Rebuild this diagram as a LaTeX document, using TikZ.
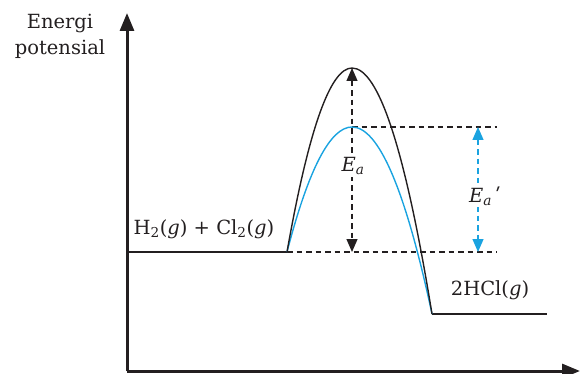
\documentclass[tikz,border=0pt]{standalone}
\usepackage{fontspec}
\setmainfont{DejaVu Serif}
\usetikzlibrary{arrows.meta}
\definecolor{ink}{HTML}{231F20}
\definecolor{cyanline}{HTML}{1AA3E0}
\tikzset{
  axisline/.style={draw=ink, line width=3pt, -{Triangle[length=18pt,width=14pt]}},
  levelline/.style={draw=ink, line width=1.3pt},
  curveblack/.style={draw=ink, line width=1.4pt},
  curveblue/.style={draw=cyanline, line width=1.4pt},
  guide/.style={draw=ink, line width=1.1pt, dash pattern=on 5.5pt off 4pt},
  ea/.style={draw=ink, line width=1.3pt, dash pattern=on 5.5pt off 4pt, {Triangle[length=13pt,width=11pt]}-{Triangle[length=13pt,width=11pt]}},
  eab/.style={draw=cyanline, line width=1.3pt, dash pattern=on 5.5pt off 4pt, {Triangle[length=13pt,width=11pt]}-{Triangle[length=13pt,width=11pt]}},
  lbl/.style={font=\fontsize{19.5}{23}\selectfont, text=ink, inner sep=0pt}
}
\begin{document}
\begin{tikzpicture}[x=1pt,y=-1pt]
\useasboundingbox (0,0) rectangle (580,374);
% coordinates
\coordinate (O) at (127,371);
\coordinate (ytip) at (127,13);
\coordinate (xtip) at (580,371);
\coordinate (r0) at (127,252);
\coordinate (r1) at (287,252);
\coordinate (pk) at (352,68);
\coordinate (pkb) at (352,127);
\coordinate (p0) at (432,314);
\coordinate (p1) at (547,314);
\coordinate (d1) at (497,252);
\coordinate (d2) at (497,127);
\coordinate (eabot) at (352,252);
\coordinate (ebtop) at (478,127);
\coordinate (ebbot) at (478,252);
% axes
\draw[axisline] (O) -- (ytip);
\draw[axisline] (O) -- (xtip);
% levels
\draw[levelline] (r0) -- (r1);
\draw[levelline] (p0) -- (p1);
% guides
\draw[guide] (r1) -- (d1);
\draw[guide] (pkb) -- (d2);
% curves
\draw[curveblue] (r1) .. controls (308.67,168.67) and (330.33,127) .. (pkb)
  .. controls (378.67,127) and (405.33,189.33) .. (p0);
\draw[curveblack] (r1) .. controls (308.67,129.33) and (330.33,68) .. (pk)
  .. controls (378.67,68) and (405.33,150) .. (p0);
% arrows
\draw[ea] (pk) -- (eabot);
\draw[eab] (ebtop) -- (ebbot);
% labels
\node[lbl, fill=white, inner sep=2pt] (ealbl) at (353,166) {\textit{E}\textsubscript{\textit{a}}};
\node[lbl, fill=white, inner sep=2pt] (eblbl) at (485,196) {\textit{E}\textsubscript{\textit{a}}\,\textit{ʹ}};
\node[lbl, align=center] (ylbl) at (60,36) {Energi\\[3pt]potensial};
\node[lbl] (rlbl) at (204,229) {H\textsubscript{2}(\textit{g}) + Cl\textsubscript{2}(\textit{g})};
\node[lbl] (plbl) at (490,290) {2HCl(\textit{g})};
\end{tikzpicture}
\end{document}
